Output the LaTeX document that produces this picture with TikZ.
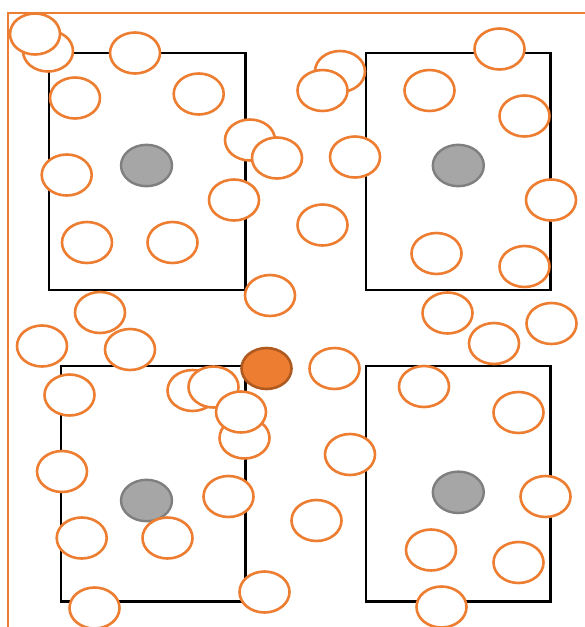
\documentclass[tikz,border=0pt]{standalone}
\definecolor{acc}{HTML}{ED7D31}
\definecolor{accdark}{HTML}{AE5A21}
\definecolor{grayfill}{HTML}{A6A6A6}
\definecolor{grayline}{HTML}{7F7F7F}
\tikzset{
  frameline/.style={draw=acc, line width=2.4pt},
  cellbox/.style={draw=black, line width=2.8pt},
  core/.style={draw=grayline, fill=grayfill, line width=2.4pt},
  ring/.style={draw=acc, fill=white, line width=2.6pt},
  hotring/.style={draw=accdark, fill=acc, line width=2.6pt}
}
\begin{document}
\begin{tikzpicture}[x=1pt,y=-1pt]
\useasboundingbox (0,0) rectangle (585,627);
\fill[white] (0,0) rectangle (585,627);
% outer frame
\draw[frameline] (8,640) -- (8,13) -- (600,13);
% four cells
\draw[cellbox] (49,53) rectangle (245.5,290);
\draw[cellbox] (366,53) rectangle (550.5,290);
\draw[cellbox] (61,366) rectangle (245.5,601.5);
\draw[cellbox] (366,366) rectangle (550.5,601.5);
% gray cores
\path[core] (146.5,165.5) ellipse (25.5 and 20.7);
\path[core] (458.3,165.5) ellipse (25.5 and 20.7);
\path[core] (146.5,500.5) ellipse (25.5 and 20.7);
\path[core] (458.3,492.3) ellipse (25.5 and 20.7);
% orange rings (back ones first)
\foreach \x/\y in {
  48/51, 35/34, 135/53, 75/98, 198.7/94, 250/140, 277/158, 66.7/175,
  234/200, 87/242.5, 172.5/242.5, 270/295.5, 100/312.5,
  340/71.5, 322.5/90.5, 499.5/49, 429.5/90.5, 524.5/116, 355/157,
  551/200, 322.5/225, 436.5/253.5, 524.5/266.5, 447.5/313, 551.5/323.5,
  42/346, 130/349.5, 69.5/395, 192.5/390.5, 213.5/387, 244.5/438, 241/412,
  62/471.5, 228.5/496.5, 81.7/538, 167.5/538, 264.5/592, 94.5/608,
  494/343.5, 334.5/368.5, 424/386.5, 518.5/412.5, 350/454.5, 545.5/496.5,
  316.5/520.5, 431/550, 518.5/562.5, 441.5/607}
  \path[ring] (\x,\y) ellipse (25 and 20.5);
% highlighted ring
\path[hotring] (266.5,368.5) ellipse (25 and 20.5);
\end{tikzpicture}
\end{document}
